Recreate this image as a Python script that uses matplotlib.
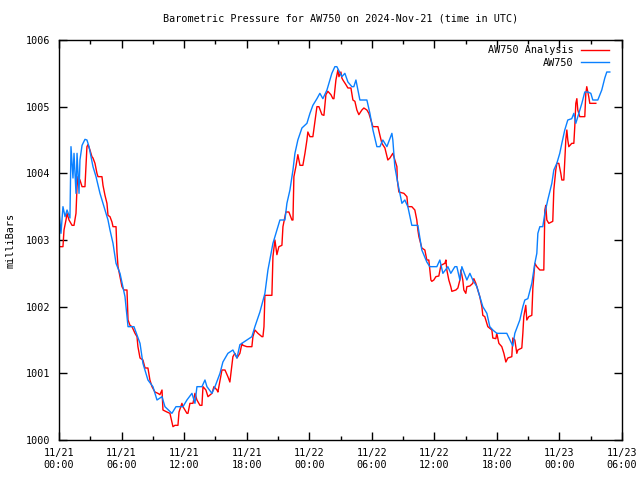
import matplotlib
matplotlib.use("Agg")
import matplotlib.pyplot as plt
import matplotlib.dates as mdates
import numpy as np
import pandas as pd

# ---- data (hours since 2024-11-21 00:00 UTC, pressure in mb) ----
aw_hours = [0.00, 0.19, 0.38, 0.58, 0.77, 1.05, 1.15, 1.34, 1.44, 1.63, 1.73, 1.92, 2.01, 2.21,
            2.49, 2.68, 2.88, 3.07, 3.26, 3.55, 3.93, 4.31, 4.70, 4.89, 5.18, 5.47, 5.85, 6.33,
            6.62, 7.19, 7.77, 8.05, 8.53, 9.01, 9.40, 9.88, 10.16, 10.83, 11.22, 11.89, 12.27,
            12.75, 13.04, 13.23, 13.71, 14.00, 14.19, 14.67, 14.96, 15.44, 15.72, 16.20, 16.68,
            17.07, 17.35, 18.02, 18.50, 18.79, 19.27, 19.75, 20.04, 20.52, 20.90, 21.19, 21.67,
            21.86, 22.15, 22.44, 22.63, 22.91, 23.30, 23.78, 24.07, 24.35, 24.74, 25.02, 25.31,
            25.70, 26.17, 26.46, 26.65, 27.13, 27.42, 27.71, 28.09, 28.28, 28.48, 28.86, 29.53,
            29.82, 30.11, 30.49, 30.78, 31.06, 31.45, 31.93, 32.02, 32.21, 32.50, 32.89, 33.17,
            33.46, 33.84, 34.42, 34.80, 35.28, 35.57, 36.24, 36.53, 36.82, 37.30, 37.58, 37.97,
            38.16, 38.45, 38.64, 39.12, 39.41, 39.69, 40.08, 40.36, 40.65, 41.04, 41.32, 41.61,
            41.99, 42.95, 43.53, 43.72, 44.20, 44.49, 44.68, 44.97, 45.35, 45.64, 45.83, 45.93,
            46.12, 46.40, 46.60, 46.88, 47.27, 47.46, 47.75, 48.03, 48.23, 48.51, 48.80, 49.18,
            49.38, 49.57, 49.76, 50.15, 50.43, 50.72, 51.01, 51.20, 51.68, 52.06, 52.35, 52.54,
            52.83]
aw_press = [1003.42, 1003.10, 1003.50, 1003.35, 1003.45, 1003.33, 1004.40, 1003.93, 1004.30,
            1003.70, 1004.30, 1003.70, 1004.20, 1004.42, 1004.51, 1004.50, 1004.40, 1004.25,
            1004.10, 1003.95, 1003.70, 1003.50, 1003.30, 1003.15, 1002.95, 1002.65, 1002.50,
            1002.15, 1001.70, 1001.70, 1001.45, 1001.15, 1000.90, 1000.80, 1000.60, 1000.65,
            1000.50, 1000.40, 1000.50, 1000.50, 1000.60, 1000.70, 1000.55, 1000.80, 1000.80,
            1000.90, 1000.80, 1000.70, 1000.80, 1001.00, 1001.17, 1001.30, 1001.35, 1001.23,
            1001.43, 1001.50, 1001.55, 1001.70, 1001.92, 1002.20, 1002.55, 1002.95, 1003.15,
            1003.30, 1003.30, 1003.55, 1003.75, 1004.05, 1004.30, 1004.50, 1004.68, 1004.75,
            1004.90, 1005.02, 1005.12, 1005.20, 1005.12, 1005.25, 1005.50, 1005.60, 1005.60,
            1005.45, 1005.50, 1005.37, 1005.30, 1005.30, 1005.40, 1005.10, 1005.10, 1004.90,
            1004.65, 1004.40, 1004.40, 1004.50, 1004.40, 1004.60, 1004.50, 1004.10, 1003.85,
            1003.55, 1003.60, 1003.50, 1003.22, 1003.22, 1002.85, 1002.67, 1002.60, 1002.60,
            1002.70, 1002.50, 1002.60, 1002.50, 1002.60, 1002.60, 1002.40, 1002.60, 1002.40,
            1002.50, 1002.40, 1002.30, 1002.15, 1002.00, 1001.90, 1001.70, 1001.65, 1001.60,
            1001.60, 1001.41, 1001.60, 1001.80, 1002.00, 1002.10, 1002.12, 1002.35, 1002.65,
            1002.80, 1003.10, 1003.20, 1003.20, 1003.40, 1003.60, 1003.85, 1004.05, 1004.15,
            1004.30, 1004.45, 1004.65, 1004.80, 1004.82, 1004.90, 1004.75, 1004.85, 1005.05,
            1005.22, 1005.22, 1005.20, 1005.10, 1005.10, 1005.25, 1005.43, 1005.52, 1005.52]

an_hours = [0.00, 0.38, 0.48, 0.67, 0.77, 0.96, 1.25, 1.44, 1.63, 1.73, 1.82, 2.01, 2.21, 2.49,
            2.59, 2.68, 2.78, 2.97, 3.16, 3.26, 3.45, 3.64, 3.74, 4.12, 4.22, 4.41, 4.60, 4.70,
            4.89, 5.08, 5.18, 5.47, 5.56, 5.66, 5.85, 6.04, 6.23, 6.52, 6.62, 6.81, 7.00, 7.29,
            7.48, 7.57, 7.77, 8.05, 8.25, 8.53, 8.72, 8.92, 9.20, 9.49, 9.68, 9.88, 9.97, 10.35,
            10.64, 10.93, 11.12, 11.41, 11.51, 11.79, 11.89, 12.27, 12.37, 12.56, 12.85, 13.04,
            13.23, 13.52, 13.71, 13.81, 14.09, 14.29, 14.67, 14.86, 15.15, 15.24, 15.63, 15.92,
            16.20, 16.39, 16.68, 16.87, 17.07, 17.35, 17.55, 17.64, 18.02, 18.50, 18.60, 18.79,
            19.08, 19.46, 19.56, 19.66, 19.75, 20.42, 20.52, 20.71, 20.90, 21.09, 21.38, 21.48,
            21.76, 22.05, 22.34, 22.44, 22.53, 22.72, 22.91, 23.11, 23.39, 23.59, 23.78, 23.87,
            24.07, 24.35, 24.54, 24.74, 24.93, 25.22, 25.41, 25.60, 25.79, 26.08, 26.27, 26.37,
            26.56, 26.75, 26.85, 27.04, 27.13, 27.23, 27.52, 27.71, 28.00, 28.19, 28.38, 28.57,
            28.76, 29.05, 29.24, 29.53, 29.72, 30.01, 30.11, 30.59, 30.78, 30.97, 31.26, 31.54,
            31.74, 32.02, 32.21, 32.41, 32.45, 32.60, 33.08, 33.37, 33.46, 33.84, 34.13, 34.32,
            34.42, 34.52, 34.80, 35.09, 35.28, 35.47, 35.67, 35.76, 35.95, 36.15, 36.43, 36.63,
            37.01, 37.11, 37.20, 37.39, 37.58, 37.68, 38.07, 38.26, 38.45, 38.54, 38.73, 38.83,
            39.02, 39.12, 39.41, 39.69, 39.79, 39.98, 40.17, 40.36, 40.56, 40.65, 40.84, 41.04,
            41.13, 41.52, 41.61, 41.90, 41.99, 42.19, 42.47, 42.67, 42.86, 43.05, 43.43, 43.53,
            43.72, 43.91, 44.01, 44.39, 44.49, 44.58, 44.77, 44.87, 45.06, 45.35, 45.45, 45.64,
            45.83, 46.12, 46.50, 46.60, 46.69, 46.79, 46.98, 47.36, 47.46, 47.65, 47.75, 47.94,
            48.13, 48.23, 48.42, 48.51, 48.61, 48.71, 48.80, 48.90, 49.18, 49.38, 49.47, 49.57,
            49.67, 49.76, 49.95, 50.43, 50.53, 50.62, 50.81, 50.91, 51.49]
an_press = [1002.90, 1002.90, 1003.15, 1003.30, 1003.40, 1003.30, 1003.22, 1003.22, 1003.40,
            1003.80, 1003.95, 1003.90, 1003.80, 1003.80, 1004.10, 1004.40, 1004.43, 1004.35,
            1004.25, 1004.23, 1004.15, 1004.00, 1003.95, 1003.95, 1003.82, 1003.67, 1003.55,
            1003.37, 1003.35, 1003.27, 1003.20, 1003.20, 1002.82, 1002.60, 1002.45, 1002.30,
            1002.25, 1002.25, 1001.80, 1001.72, 1001.70, 1001.60, 1001.55, 1001.40, 1001.23,
            1001.20, 1001.08, 1001.08, 1000.90, 1000.80, 1000.72, 1000.70, 1000.68, 1000.75,
            1000.45, 1000.42, 1000.40, 1000.20, 1000.22, 1000.22, 1000.42, 1000.55, 1000.50,
            1000.40, 1000.40, 1000.55, 1000.55, 1000.70, 1000.60, 1000.52, 1000.52, 1000.80,
            1000.75, 1000.65, 1000.70, 1000.80, 1000.75, 1000.72, 1001.05, 1001.05, 1000.95,
            1000.87, 1001.25, 1001.30, 1001.23, 1001.30, 1001.45, 1001.42, 1001.40, 1001.40,
            1001.55, 1001.65, 1001.60, 1001.55, 1001.55, 1001.70, 1002.17, 1002.17, 1002.75,
            1003.00, 1002.78, 1002.90, 1002.92, 1003.20, 1003.42, 1003.42, 1003.30, 1003.30,
            1003.95, 1004.10, 1004.28, 1004.12, 1004.12, 1004.30, 1004.50, 1004.62, 1004.55,
            1004.55, 1004.77, 1005.00, 1005.00, 1004.88, 1004.87, 1005.18, 1005.23, 1005.18,
            1005.12, 1005.12, 1005.40, 1005.55, 1005.45, 1005.52, 1005.43, 1005.40, 1005.33,
            1005.28, 1005.28, 1005.10, 1005.08, 1004.95, 1004.88, 1004.95, 1004.98, 1004.95,
            1004.90, 1004.75, 1004.70, 1004.70, 1004.57, 1004.45, 1004.38, 1004.20, 1004.23,
            1004.30, 1004.20, 1004.10, 1003.90, 1003.72, 1003.70, 1003.65, 1003.50, 1003.50,
            1003.45, 1003.30, 1003.15, 1003.05, 1002.88, 1002.85, 1002.70, 1002.70, 1002.40,
            1002.38, 1002.40, 1002.45, 1002.46, 1002.62, 1002.65, 1002.70, 1002.55, 1002.40,
            1002.30, 1002.23, 1002.25, 1002.28, 1002.40, 1002.55, 1002.40, 1002.25, 1002.20,
            1002.30, 1002.31, 1002.35, 1002.42, 1002.35, 1002.25, 1002.15, 1002.00, 1001.87,
            1001.85, 1001.75, 1001.70, 1001.65, 1001.53, 1001.52, 1001.60, 1001.45, 1001.40,
            1001.30, 1001.17, 1001.23, 1001.25, 1001.53, 1001.50, 1001.30, 1001.35, 1001.38,
            1001.60, 1001.85, 1002.02, 1001.80, 1001.85, 1001.87, 1002.28, 1002.65, 1002.60,
            1002.55, 1002.55, 1003.45, 1003.52, 1003.30, 1003.25, 1003.28, 1003.75, 1004.05,
            1004.15, 1004.15, 1004.00, 1003.90, 1003.90, 1004.20, 1004.50, 1004.65, 1004.50,
            1004.40, 1004.45, 1004.45, 1004.70, 1005.05, 1005.12, 1004.95, 1004.85, 1004.85,
            1005.20, 1005.30, 1005.15, 1005.05, 1005.05]

series_labels = ["AW750 Analysis", "AW750"]
title_text = "Barometric Pressure for AW750 on 2024-Nov-21 (time in UTC)"
y_label = "milliBars"
start_time = "2024-11-21 00:00"
span_hours = 54

# ---- plot ----
plt.rcParams['font.family'] = ['DejaVu Sans Mono']
fs = 7.3

t0 = pd.Timestamp(start_time)
an_t = t0 + pd.to_timedelta(an_hours, unit='h')
aw_t = t0 + pd.to_timedelta(aw_hours, unit='h')

fig = plt.figure(figsize=(6.4, 4.8), dpi=100)
ax = fig.add_axes([59/640, 40/480, 563/640, 400/480])

ax.plot(an_t, an_press, color='#ff0000', lw=1.0, label=series_labels[0])
ax.plot(aw_t, aw_press, color='#0a80ff', lw=1.0, label=series_labels[1])

ax.set_xlim(t0, t0 + pd.Timedelta(hours=span_hours))
ax.set_ylim(1000, 1006)
ax.set_yticks(np.arange(1000, 1007, 1))
ax.yaxis.set_major_formatter(matplotlib.ticker.FormatStrFormatter('%d'))

ax.xaxis.set_major_locator(mdates.HourLocator(byhour=[0, 6, 12, 18]))
ax.xaxis.set_minor_locator(mdates.HourLocator(byhour=[3, 9, 15, 21]))
ax.xaxis.set_major_formatter(mdates.DateFormatter('%m/%d\n%H:%M'))

ax.tick_params(axis='both', which='both', direction='in', top=True, right=True,
               labelsize=fs, width=1.0, color='black')
ax.tick_params(axis='both', which='major', length=6, pad=6)
ax.tick_params(axis='x', which='minor', length=3)
for sp in ax.spines.values():
    sp.set_linewidth(1.0)

ax.set_title(title_text, fontsize=fs, pad=13)
ax.set_ylabel(y_label, fontsize=fs, labelpad=8)

leg = ax.legend(loc='upper right', frameon=False, markerfirst=False, fontsize=fs,
                handlelength=2.8, handletextpad=0.7, labelspacing=0.25,
                borderaxespad=0.3, bbox_to_anchor=(1 - 6/563, 1 + 2/400))

fig.savefig('out.png', dpi=100)
